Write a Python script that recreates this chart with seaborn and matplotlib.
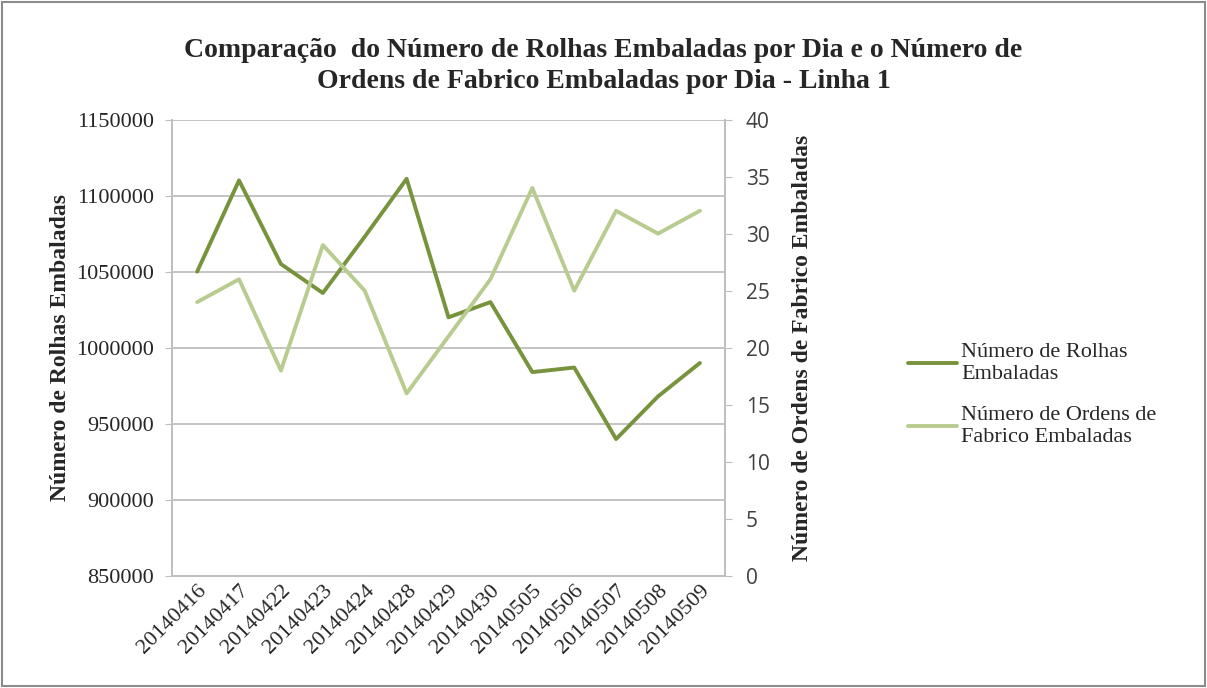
import pandas as pd
import numpy as np
import matplotlib.pyplot as plt
import seaborn as sns
from matplotlib.patches import Rectangle

dates = ['20140416', '20140417', '20140422', '20140423', '20140424', '20140428', '20140429',
         '20140430', '20140505', '20140506', '20140507', '20140508', '20140509']
rolhas = [1050000, 1110000, 1055000, 1036000, 1073000, 1111000, 1020000,
          1030000, 984000, 987000, 940000, 968000, 990000]
ordens = [24, 26, 18, 29, 25, 16, 21, 26, 34, 25, 32, 30, 32]

name_rolhas = 'Número de Rolhas\nEmbaladas'
name_ordens = 'Número de Ordens de\nFabrico Embaladas'

df = pd.DataFrame({'Data': dates, 'Rolhas': rolhas, 'Ordens': ordens})

sns.set_style('white')
plt.rcParams['font.family'] = ['Liberation Serif', 'DejaVu Serif']

dark = '#77933c'
light = '#b8cc90'
grid_c = '#bfbfbf'

fig = plt.figure(figsize=(12.07, 6.88), dpi=100)
ax = fig.add_axes([0.1425, 0.1628, 0.4582, 0.6635])
ax2 = ax.twinx()

sns.lineplot(data=df, x='Data', y='Rolhas', ax=ax, color=dark, linewidth=2.8,
             label=name_rolhas, legend=False)
sns.lineplot(data=df, x='Data', y='Ordens', ax=ax2, color=light, linewidth=2.8,
             label=name_ordens, legend=False)

ax.set_ylim(850000, 1150000)
ax.set_yticks(np.arange(850000, 1150001, 50000))
ax.set_yticklabels([str(v) for v in np.arange(850000, 1150001, 50000)], fontsize=16)
ax2.set_ylim(0, 40)
ax2.set_yticks(np.arange(0, 41, 5))
ax2.set_yticklabels([str(v) for v in np.arange(0, 41, 5)], fontsize=15,
                    family=['Open Sans', 'DejaVu Sans'], color='#404040')
ax.set_xlim(-0.6, len(dates) - 0.4)

ax.yaxis.grid(True, color=grid_c, linewidth=1.3)
ax.set_axisbelow(True)
for a in (ax, ax2):
    for s in a.spines.values():
        s.set_color(grid_c)
        s.set_linewidth(1.3)
    a.spines['top'].set_visible(False)
ax.tick_params(axis='y', length=5, color=grid_c, left=True, pad=8)
ax2.tick_params(axis='y', length=5, color=grid_c, right=True, pad=10)
ax.tick_params(axis='x', length=0, pad=4)
plt.setp(ax.get_xticklabels(), rotation=45, ha='right', rotation_mode='anchor', fontsize=16)

ax.set_xlabel('')
ax.set_ylabel('Número de Rolhas Embaladas', fontsize=17, fontweight='bold', labelpad=4)
ax2.set_ylabel('Número de Ordens de Fabrico Embaladas', fontsize=17, fontweight='bold', labelpad=16)

fig.suptitle('Comparação  do Número de Rolhas Embaladas por Dia e o Número de\n'
             'Ordens de Fabrico Embaladas por Dia - Linha 1',
             x=0.5, y=0.945, fontsize=20, fontweight='bold', linespacing=1.3)

h1, l1 = ax.get_legend_handles_labels()
h2, l2 = ax2.get_legend_handles_labels()
fig.legend(h1 + h2, l1 + l2, loc='center left', bbox_to_anchor=(0.752, 0.426),
           frameon=False, fontsize=16, handlelength=2.2, handletextpad=0.2,
           labelspacing=1.0, borderpad=0, borderaxespad=0)

fig.patches.append(Rectangle((0.002, 0.003), 0.996, 0.994, transform=fig.transFigure,
                             fill=False, edgecolor='#8c8c8c', linewidth=1.5))

plt.savefig('out.png', dpi=100)
